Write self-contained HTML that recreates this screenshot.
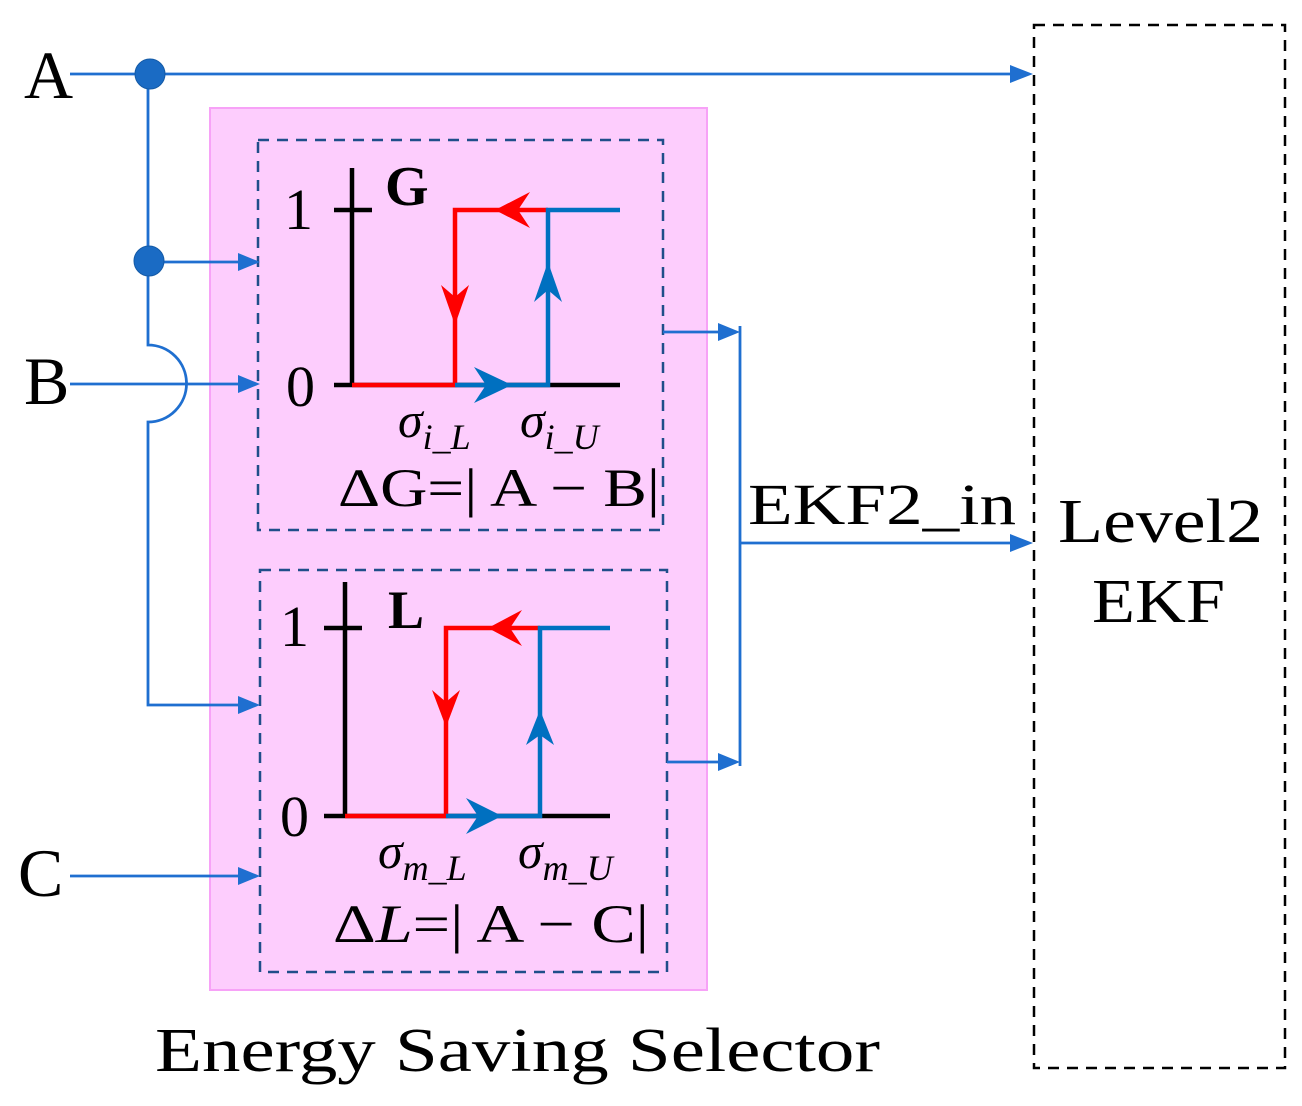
<!DOCTYPE html>
<html><head><meta charset="utf-8"><style>
html,body{margin:0;padding:0;background:#fff;}
svg{display:block;}
text{font-family:"Liberation Serif",serif;fill:#000;}
</style></head><body>
<svg width="1302" height="1106" viewBox="0 0 1302 1106" xmlns="http://www.w3.org/2000/svg">
<!-- pink selector -->
<rect x="210" y="108" width="497" height="882" fill="#fdcdfd" stroke="#f7a2f7" stroke-width="2"/>
<rect x="258" y="140" width="405" height="390" fill="none" stroke="#1f4e8a" stroke-width="2.5" stroke-dasharray="11,8"/>
<rect x="260" y="570" width="407" height="402" fill="none" stroke="#1f4e8a" stroke-width="2.5" stroke-dasharray="11,8"/>
<rect x="1034" y="25" width="251" height="1043" fill="none" stroke="#000" stroke-width="2.5" stroke-dasharray="11,8"/>

<g stroke="#1f6fd0" stroke-width="2.8" fill="none">
<line x1="70" y1="74" x2="1012" y2="74"/>
<path d="M148,74 V345 A19,19 0 0 1 148,422 V705 H240"/>
<line x1="150" y1="262" x2="240" y2="262"/>
<line x1="70" y1="384" x2="240" y2="384"/>
<line x1="70" y1="876" x2="240" y2="876"/>
<line x1="663" y1="332" x2="722" y2="332"/>
<line x1="667" y1="762" x2="722" y2="762"/>
<line x1="740" y1="326" x2="740" y2="766"/>
<line x1="740" y1="543" x2="1012" y2="543"/>
</g>
<g fill="#1f6fd0">
<path d="M1010,65 L1033,74 L1010,83 Z"/>
<path d="M238,696 L260,705 L238,714 Z"/>
<path d="M238,253 L260,262 L238,271 Z"/>
<path d="M238,375 L260,384 L238,393 Z"/>
<path d="M238,867 L260,876 L238,885 Z"/>
<path d="M718,323 L740,332 L718,341 Z"/>
<path d="M718,753 L740,762 L718,771 Z"/>
<path d="M1010,534 L1033,543 L1010,552 Z"/>
</g>
<circle cx="150" cy="74" r="15" fill="#1a6bc4" stroke="#145aa6" stroke-width="1"/>
<circle cx="149" cy="261" r="15" fill="#1a6bc4" stroke="#145aa6" stroke-width="1"/>

<!-- Graph G -->
<g stroke-width="4.5" fill="none">
<line x1="352" y1="168" x2="352" y2="386" stroke="#000"/>
<line x1="334" y1="210" x2="372" y2="210" stroke="#000"/>
<line x1="334" y1="385" x2="620" y2="385" stroke="#000"/>
<path d="M352,385 H455 V210 H548" stroke="#ff0000"/>
<path d="M455,385 H548 V210 H620" stroke="#0070c0"/>
</g>
<path d="M495,210 L530,192 L518,210 L530,228 Z" fill="#ff0000"/>
<path d="M455,325 L441,285 L455,297 L469,285 Z" fill="#ff0000"/>
<path d="M512,385 L474,367 L486,385 L474,403 Z" fill="#0070c0"/>
<path d="M548,262 L534,302 L548,290 L562,302 Z" fill="#0070c0"/>
<text x="284" y="229" font-size="58">1</text>
<text x="286" y="406" font-size="58">0</text>
<text x="385" y="205" font-size="56" font-weight="bold">G</text>
<text x="398" y="437" font-size="50" font-style="italic">σ<tspan font-size="36" dy="12">i_L</tspan></text>
<text x="520" y="437" font-size="50" font-style="italic">σ<tspan font-size="36" dy="12">i_U</tspan></text>
<text x="338" y="506" font-size="54" textLength="322" lengthAdjust="spacingAndGlyphs">ΔG=| A − B|</text>

<!-- Graph L -->
<g stroke-width="4.5" fill="none">
<line x1="345" y1="582" x2="345" y2="816" stroke="#000"/>
<line x1="324" y1="628" x2="362" y2="628" stroke="#000"/>
<line x1="324" y1="816" x2="610" y2="816" stroke="#000"/>
<path d="M345,816 H446 V628 H540" stroke="#ff0000"/>
<path d="M446,816 H540 V628 H610" stroke="#0070c0"/>
</g>
<path d="M488,628 L522,610 L510,628 L522,646 Z" fill="#ff0000"/>
<path d="M446,727 L432,690 L446,702 L460,690 Z" fill="#ff0000"/>
<path d="M502,816 L466,798 L478,816 L466,834 Z" fill="#0070c0"/>
<path d="M540,710 L526,745 L540,735 L554,745 Z" fill="#0070c0"/>
<text x="280" y="646" font-size="58">1</text>
<text x="280" y="836" font-size="58">0</text>
<text x="388" y="628" font-size="54" font-weight="bold">L</text>
<text x="378" y="868" font-size="50" font-style="italic">σ<tspan font-size="36" dy="12">m_L</tspan></text>
<text x="518" y="868" font-size="50" font-style="italic">σ<tspan font-size="36" dy="12">m_U</tspan></text>
<text x="333" y="942" font-size="54" textLength="316" lengthAdjust="spacingAndGlyphs">Δ<tspan font-style="italic">L</tspan>=| A − C|</text>

<!-- labels -->
<text x="24" y="98" font-size="68">A</text>
<text x="24" y="404" font-size="68">B</text>
<text x="18" y="896" font-size="68">C</text>
<text x="748" y="524" font-size="58" textLength="268" lengthAdjust="spacingAndGlyphs">EKF2_in</text>
<text x="1058" y="542" font-size="62" textLength="205" lengthAdjust="spacingAndGlyphs">Level2</text>
<text x="1092" y="622" font-size="62" textLength="133" lengthAdjust="spacingAndGlyphs">EKF</text>
<text x="155" y="1071" font-size="62" textLength="725" lengthAdjust="spacingAndGlyphs">Energy Saving Selector</text>
</svg>
</body></html>
